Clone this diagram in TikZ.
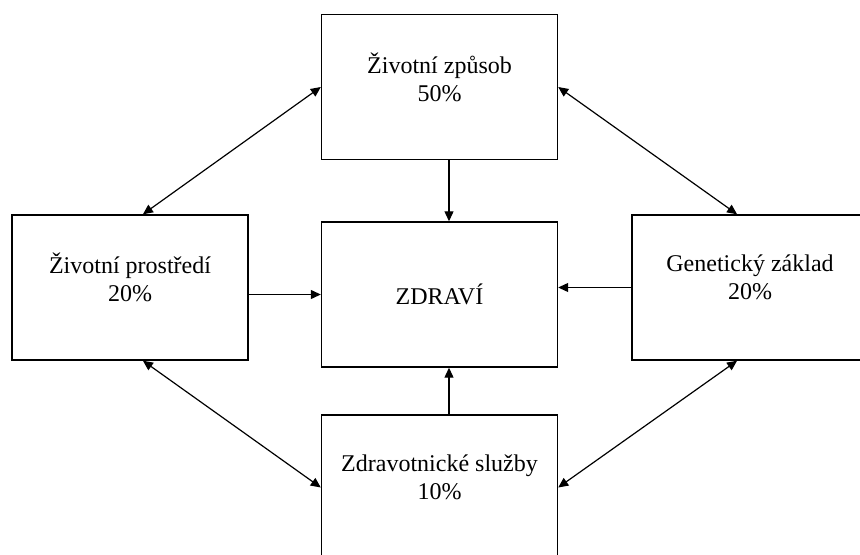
\documentclass[tikz,border=0pt]{standalone}
\usepackage{fontspec}
\setmainfont{Liberation Serif}
\usetikzlibrary{arrows.meta}
\begin{document}
\begin{tikzpicture}[>={Triangle[length=5pt,width=4.5pt]},x=0.5pt,y=-0.5pt,
  faktor/.style={draw,line width=0.7pt,minimum width=118pt,minimum height=72.5pt,
    align=center,font=\fontsize{12}{14}\selectfont,inner sep=0pt},
  nahoru/.style={text depth=10pt}]
% Vùng ảnh
\useasboundingbox (0,0) rectangle (860,555);
\clip (0,0) rectangle (860,555);
% Các ô
\node[faktor,nahoru] (zpusob) at (439.5,87) {Životní způsob\\50\%};
\node[faktor] (zdravi) at (439.5,294.5) {ZDRAVÍ};
\node[faktor,nahoru] (prostredi) at (130,287.5) {Životní prostředí\\20\%};
\node[faktor,nahoru] (geneticky) at (750,287.5) {Genetický základ\\20\%};
\node[faktor,nahoru] (sluzby) at (439.5,487.5) {Zdravotnické služby\\10\%};
\coordinate (vx) at (449,0);
% Mũi tên vào ô giữa
\draw[->,line width=0.6pt] (zpusob.south -| vx)--(zdravi.north -| vx);
\draw[->,line width=0.6pt] (sluzby.north -| vx)--(zdravi.south -| vx);
\draw[->,line width=0.6pt] (prostredi.east |- zdravi)--(zdravi.west);
\draw[->,line width=0.6pt] (geneticky.west)--(zdravi.east |- geneticky);
% Mũi tên hai chiều
\draw[<->,line width=0.6pt] (prostredi.80)--(zpusob.west);
\draw[<->,line width=0.6pt] (zpusob.east)--(geneticky.100);
\draw[<->,line width=0.6pt] (prostredi.-80)--(sluzby.west);
\draw[<->,line width=0.6pt] (geneticky.-100)--(sluzby.east);
\end{tikzpicture}
\end{document}
